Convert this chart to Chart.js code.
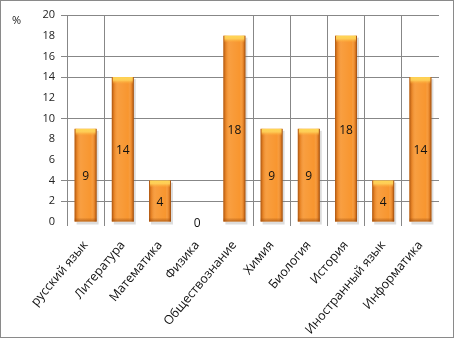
<!DOCTYPE html>
<html>
<head>
<meta charset="utf-8">
<script src="https://cdn.jsdelivr.net/npm/chart.js@4"></script>
<style>
  html, body { margin: 0; padding: 0; background: #fff; }
  #wrap { position: relative; width: 454px; height: 338px; }
</style>
</head>
<body>
<div id="wrap"><canvas id="subjectsChart" width="454" height="338"></canvas></div>
<script>
// subjects and their share, %
const subjects = ['русский язык', 'Литература', 'Математика', 'Физика', 'Обществознание',
                  'Химия', 'Биология', 'История', 'Иностранный язык', 'Информатика'];
const percents = [9, 14, 4, 0, 18, 9, 9, 18, 4, 14];
const yTicks = [0, 2, 4, 6, 8, 10, 12, 14, 16, 18, 20];
const unitLabel = '%';

// grid lines that are actually drawn
const shownY = [2, 4, 10, 14, 16, 20];
const shownX = [0, 1, 5, 6, 7, 8, 9];
const gridGray = '#878787';

const frame = {
  id: 'frame',
  beforeDraw(chart) {
    const c = chart.ctx;
    c.save();
    c.fillStyle = '#fff';
    c.fillRect(0, 0, chart.width, chart.height);
    c.strokeStyle = '#8a8a8a';
    c.lineWidth = 1;
    c.strokeRect(0.5, 0.5, chart.width - 1, chart.height - 1);
    c.fillStyle = '#222';
    c.font = '11px "Open Sans"';
    c.textAlign = 'left';
    c.textBaseline = 'middle';
    c.fillText(unitLabel, 12, 21);
    c.restore();
  }
};

// soft shadow under bars, bevel shading on top, value in the middle
const bevel = {
  id: 'bevel',
  beforeDatasetsDraw(chart) {
    const c = chart.ctx;
    c.save();
    chart.getDatasetMeta(0).data.forEach(bar => {
      const h = bar.base - bar.y;
      if (h <= 0) return;
      c.fillStyle = 'rgba(120,120,120,0.25)';
      c.fillRect(bar.x - bar.width / 2 + 2, bar.y + 2, bar.width, h + 1);
    });
    c.restore();
  },
  afterDatasetsDraw(chart) {
    const c = chart.ctx;
    c.save();
    chart.getDatasetMeta(0).data.forEach((bar, i) => {
      const l = bar.x - bar.width / 2, r = bar.x + bar.width / 2;
      const t = bar.y, b = bar.base, h = b - t;
      if (h > 0) {
        const side = c.createLinearGradient(l, 0, r, 0);
        side.addColorStop(0, 'rgba(140,60,5,0.75)');
        side.addColorStop(0.12, 'rgba(190,90,20,0.25)');
        side.addColorStop(0.3, 'rgba(255,255,255,0.08)');
        side.addColorStop(0.75, 'rgba(255,255,255,0)');
        side.addColorStop(0.9, 'rgba(190,90,20,0.3)');
        side.addColorStop(1, 'rgba(120,50,5,0.8)');
        c.fillStyle = side;
        c.fillRect(l, t, r - l, h);

        const capH = Math.min(7, h);
        const cap = c.createLinearGradient(0, t, 0, t + capH);
        cap.addColorStop(0, 'rgba(255,215,85,1)');
        cap.addColorStop(0.45, 'rgba(255,210,90,0.9)');
        cap.addColorStop(1, 'rgba(255,170,50,0)');
        c.fillStyle = cap;
        c.fillRect(l + 1, t, r - l - 2, capH);

        const foot = c.createLinearGradient(0, b - 4, 0, b);
        foot.addColorStop(0, 'rgba(150,70,10,0)');
        foot.addColorStop(1, 'rgba(150,70,10,0.6)');
        c.fillStyle = foot;
        c.fillRect(l, b - 4, r - l, 4);
      }
      c.fillStyle = '#111';
      c.font = '12px "Open Sans"';
      c.textAlign = 'center';
      c.textBaseline = 'middle';
      c.fillText(String(percents[i]), bar.x, (t + b) / 2 + 1.5);
    });
    c.restore();
  }
};

new Chart(document.getElementById('subjectsChart').getContext('2d'), {
  type: 'bar',
  data: {
    labels: subjects,
    datasets: [{
      data: percents,
      backgroundColor: '#F8962F',
      borderWidth: 0,
      barPercentage: 0.59,
      categoryPercentage: 1
    }]
  },
  options: {
    responsive: false,
    animation: false,
    devicePixelRatio: 1,
    layout: { padding: { top: 15, right: 15, bottom: 0, left: 0 } },
    plugins: { legend: { display: false }, tooltip: { enabled: false } },
    scales: {
      x: {
        afterFit(scale) { scale.height = 116; },
        border: { display: false },
        grid: {
          offset: true,
          tickLength: 4,
          lineWidth: 1,
          color: ctx => (ctx.index !== undefined && shownX.includes(ctx.index)) ? gridGray : 'rgba(0,0,0,0)'
        },
        ticks: {
          autoSkip: false,
          minRotation: 50,
          maxRotation: 50,
          padding: 12,
          color: '#111',
          font: { family: 'Open Sans', size: 12.5 }
        }
      },
      y: {
        min: 0,
        max: 20,
        afterFit(scale) { scale.width = 67; },
        afterBuildTicks(scale) { scale.ticks = yTicks.map(v => ({ value: v })); },
        border: { display: false },
        grid: {
          tickLength: 6,
          lineWidth: 1,
          color: ctx => (ctx.tick && shownY.includes(ctx.tick.value)) ? gridGray : 'rgba(0,0,0,0)'
        },
        ticks: {
          padding: 6,
          color: '#222',
          font: { family: 'Open Sans', size: 11 }
        }
      }
    }
  },
  plugins: [frame, bevel]
});
</script>
</body>
</html>
